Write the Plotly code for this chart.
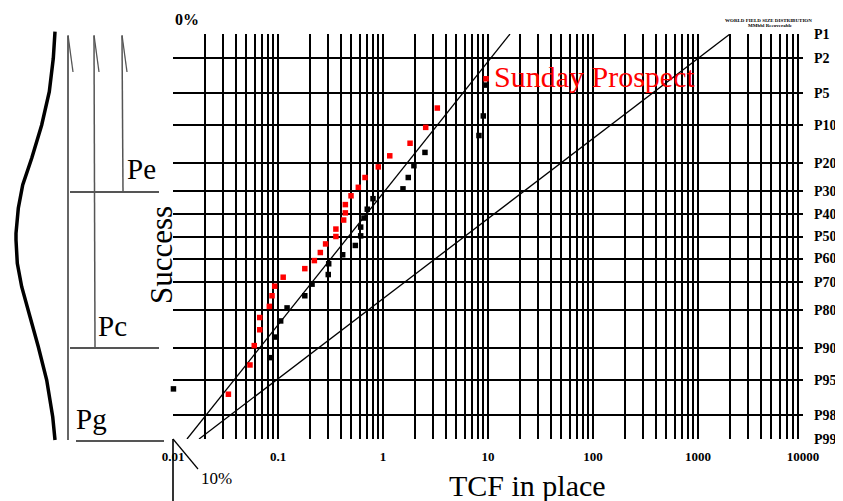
import plotly.graph_objects as go
from statistics import NormalDist

# ---------------- data ----------------
# exceedance percentile labels (right axis)
p_ticks = [1, 2, 5, 10, 20, 30, 40, 50, 60, 70, 80, 90, 95, 98, 99]
p_labels = ["P1", "P2", "P5", "P10", "P20", "P30", "P40", "P50", "P60",
            "P70", "P80", "P90", "P95", "P98", "P99"]
x_ticks = [0.01, 0.1, 1, 10, 100, 1000, 10000]
x_labels = ["0.01", "0.1", "1", "10", "100", "1000", "10000"]

# World field sizes (black squares): TCF in place, percentile
black_tcf = [9.57, 9.02, 8.2, 2.51, 1.97, 1.74, 1.55, 0.803, 0.708, 0.659,
             0.613, 0.613, 0.545, 0.413, 0.304, 0.301, 0.211, 0.180, 0.122,
             0.106, 0.093, 0.0852, 0.0101]
black_p = [4.1, 8.3, 12.3, 16.7, 20.8, 24.9, 29.2, 33.2, 37.7, 41.6,
           45.7, 49.7, 54.1, 58.3, 62.3, 66.9, 70.8, 75.2, 79.4,
           83.4, 87.6, 91.8, 96.0]

# Sunday Prospect distribution (red squares)
red_tcf = [9.57, 3.29, 2.55, 1.81, 1.16, 0.902, 0.674, 0.582, 0.496, 0.438,
           0.438, 0.422, 0.356, 0.356, 0.284, 0.253, 0.222, 0.180, 0.112,
           0.093, 0.0877, 0.0827, 0.067, 0.067, 0.0594, 0.0541, 0.0337]
red_p = [3.5, 7.0, 10.5, 14.2, 17.7, 21.2, 24.9, 28.6, 32.0, 35.7,
         39.3, 42.5, 46.6, 50.0, 53.4, 57.3, 60.9, 64.4, 68.0,
         71.6, 75.2, 78.9, 82.4, 85.8, 89.5, 93.0, 96.5]

# reference log-normal lines (P99 end, P1 end)
line1_tcf = [0.0136, 16.2]
line2_tcf = [0.0177, 2018]
line_p = [99, 1]

# ---------------- helpers ----------------
nd = NormalDist()


def z(p):
    return nd.inv_cdf(p / 100.0)


OFF = 8                    # page body margin
L, T, W, H = 173, 34, 630, 405   # plot area in page pixels
FW, FH = 843 - OFF, 501 - OFF


def px(x):
    return (x - L) / W


def py(y):
    return (T + H - y) / H


SERIF = "Liberation Serif, Times New Roman, serif"
GRIDW = 1.5

fig = go.Figure()

for tcf in (line1_tcf, line2_tcf):
    fig.add_trace(go.Scatter(x=tcf, y=[z(p) for p in line_p], mode="lines",
                             line=dict(color="black", width=1.3),
                             hoverinfo="skip"))

fig.add_trace(go.Scatter(x=black_tcf, y=[z(p) for p in black_p], mode="markers",
                         marker=dict(symbol="square", size=5.5, color="black"),
                         cliponaxis=False))
fig.add_trace(go.Scatter(x=red_tcf, y=[z(p) for p in red_p], mode="markers",
                         marker=dict(symbol="square", size=5.5, color="#ff0000"),
                         cliponaxis=False))

minor_vals = [k * 10 ** e for e in range(-2, 4) for k in range(2, 10)]

fig.update_xaxes(type="log", range=[-2, 4], tickmode="array", tickvals=x_ticks,
                 ticktext=x_labels, showgrid=True, gridcolor="black", gridwidth=GRIDW,
                 zeroline=False, showline=False, ticks="", automargin=False,
                 tickfont=dict(family=SERIF, size=13, color="black", weight="bold"),
                 ticklabelstandoff=8,
                 minor=dict(tickmode="array", tickvals=minor_vals, showgrid=True,
                            gridcolor="black", gridwidth=GRIDW, ticks=""))
fig.update_yaxes(range=[z(99), z(1)], tickmode="array",
                 tickvals=[z(p) for p in p_ticks], ticktext=p_labels,
                 side="right", showgrid=True, gridcolor="black", gridwidth=GRIDW,
                 zeroline=False, showline=False, ticks="", automargin=False,
                 tickfont=dict(family=SERIF, size=14, color="black", weight="bold"),
                 ticklabelstandoff=10)

shapes = []


def seg(x0, y0, x1, y1, color="black", width=1.5):
    shapes.append(dict(type="line", xref="paper", yref="paper",
                       x0=px(x0), y0=py(y0), x1=px(x1), y1=py(y1),
                       line=dict(color=color, width=width)))


# extension of the 0.01 axis line below the grid, and the 10% stroke
seg(173, 439, 173, 501, width=1.6)
seg(173, 439, 198, 469, width=1.2)

# left-hand probability bars
g = "#555555"
seg(68, 36, 68, 440, color="#333333", width=1.5)
seg(68, 35, 73, 72, color=g, width=1.3)
seg(94, 36, 95, 348, color=g, width=1.5)
seg(94, 35, 99, 72, color=g, width=1.3)
seg(122, 36, 123, 192, color=g, width=1.5)
seg(122, 35, 127, 72, color=g, width=1.3)
seg(70, 192, 159, 192, color=g, width=2)
seg(70, 348, 159, 348, color=g, width=2)
seg(76, 441, 164, 441, color=g, width=2)

# bell-shaped curve
curve = [(55, 31.7), (53.3, 58.3), (49.3, 91.7), (41.7, 125), (31.7, 158.3),
         (22.7, 185), (18.3, 208.3), (16, 233.3), (16, 240), (17.3, 263.3),
         (21.7, 286.7), (30, 316.7), (38.3, 346.7), (46.7, 380), (52.7, 416.7),
         (55, 440)]
path = "M " + " L ".join(f"{px(a):.5f},{py(b):.5f}" for a, b in curve)
shapes.append(dict(type="path", xref="paper", yref="paper", path=path,
                   line=dict(color="black", width=3.5)))

fig.update_layout(shapes=shapes)

ann = []


def text(x, y, s, size, color="black", bold=False, angle=0, xanchor="center",
         yanchor="middle"):
    ann.append(dict(x=px(x), y=py(y), xref="paper", yref="paper", text=s,
                    showarrow=False, xanchor=xanchor, yanchor=yanchor,
                    textangle=angle,
                    font=dict(family=SERIF, size=size, color=color,
                              weight="bold" if bold else "normal")))


text(450, 16, "PROSPECT FIELD SIZE DISTRIBUTION", 32, color="#ff2020", bold=True,
     yanchor="bottom")
text(187, 19, "0%", 16, bold=True)
text(216, 478, "10%", 17)
text(527, 485, "TCF in place", 30)
text(162, 255, "Success", 31, angle=-90)
text(492, 76, "Sunday Prospect", 30, color="#ff0000", xanchor="left")
text(141, 169, "Pe", 29)
text(112, 326, "Pc", 29)
text(91, 419, "Pg", 29)
text(768, 20, "WORLD FIELD SIZE DISTRIBUTION", 5, bold=True)
text(770, 25, "MMbbl Recoverable", 5, bold=True)

fig.update_layout(annotations=ann, width=FW, height=FH,
                  margin=dict(l=L - OFF, r=FW - (L - OFF) - W, t=T - OFF,
                              b=FH - (T - OFF) - H),
                  paper_bgcolor="white", plot_bgcolor="white",
                  showlegend=False)

fig.write_html("out.html")
